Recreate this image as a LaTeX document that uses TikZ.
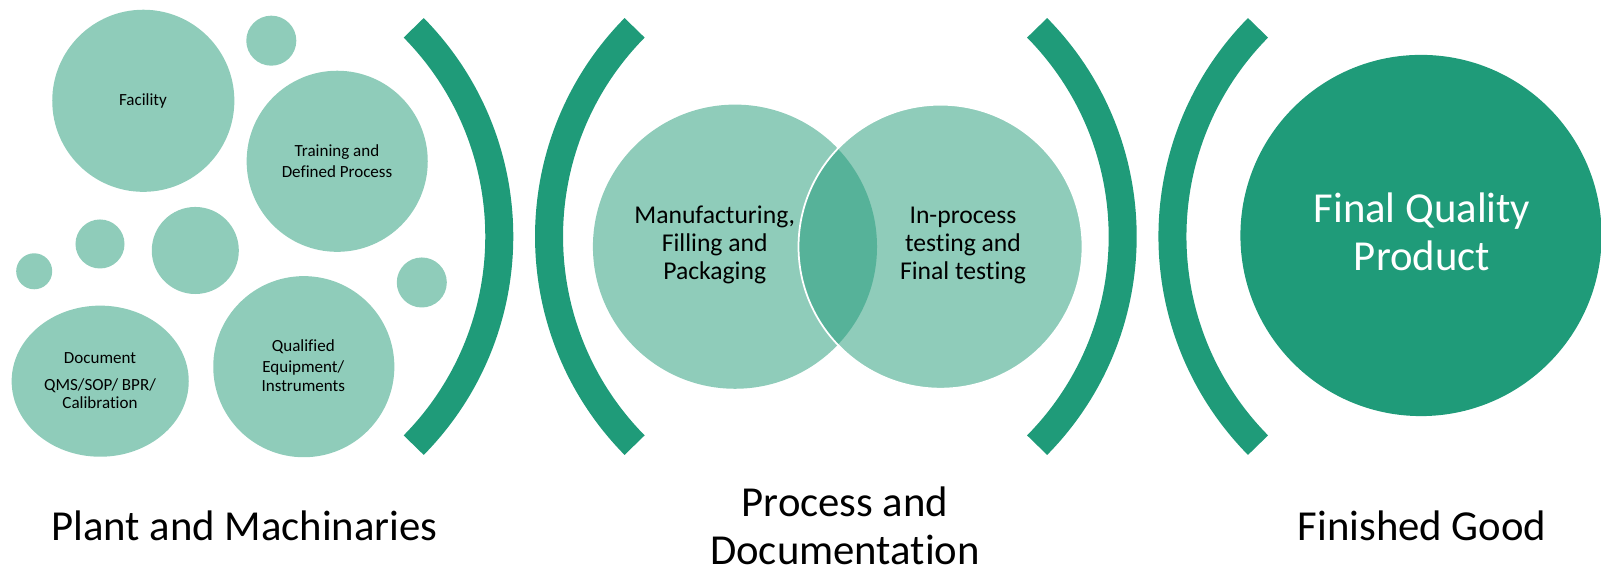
\documentclass[tikz,border=0pt]{standalone}
\usepackage{fontspec}
\setmainfont{Carlito}[Ligatures=NoCommon]
\usetikzlibrary{shapes.geometric}

\definecolor{lightteal}{RGB}{143,204,186}
\definecolor{midteal}{RGB}{86,178,153}
\definecolor{darkteal}{RGB}{31,155,121}

\tikzset{
  bubble/.style = {circle, fill = lightteal, inner sep = 0pt},
  bracket/.style = {draw = darkteal, line width = 0.28cm, line cap = butt},
  tiny/.style = {align = center, anchor = base, inner sep = 0pt,
                 font = \fontsize{4.84}{5.2}\selectfont},
  venntext/.style = {align = center, anchor = base, inner sep = 0pt,
                 font = \fontsize{7.29}{7.97}\selectfont},
  bigtext/.style = {align = center, anchor = base, inner sep = 0pt,
                 font = \fontsize{12.15}{13.7}\selectfont}
}

\begin{document}
\begin{tikzpicture}[x=0.01cm, y=0.01cm]

    \useasboundingbox (0,0) rectangle (1601,571);

    % plant and machinaries
    \node[bubble,
          minimum size = 1.82cm
          ] (fac) at (143.3,470.2) {};
    \node[tiny] at (143,465) {Facility};

    \node[bubble,
          minimum size = 1.81cm
          ] (train) at (337.2,409.7) {};
    \node[tiny] at (337,393.7) {Training and\\[0.66pt]Defined Process};

    \node[ellipse,
          fill = lightteal,
          inner sep = 0pt,
          minimum width = 1.77cm,
          minimum height = 1.51cm
          ] (doc) at (100.2,189.8) {};
    \node[tiny] at (100,162.3) {Document\\[2.4pt]QMS/SOP/ BPR/\\Calibration};

    \node[bubble,
          minimum size = 1.81cm
          ] (equip) at (303.8,204.3) {};
    \node[tiny] at (303.3,179.7) {Qualified\\[0.8pt]Equipment/\\Instruments};

    \node[bubble, minimum size = 0.50cm] (dot1) at (271.3,530.3) {};
    \node[bubble, minimum size = 0.36cm] (dot2) at (34.2,299.7) {};
    \node[bubble, minimum size = 0.49cm] (dot3) at (100,327) {};
    \node[bubble, minimum size = 0.87cm] (dot4) at (195.3,320.5) {};
    \node[bubble, minimum size = 0.50cm] (dot5) at (421.8,288.5) {};

    % brackets
    \coordinate (b1) at (202.1,334.5);
    \coordinate (b2) at (846.2,334.5);
    \coordinate (b3) at (825.5,334.5);
    \coordinate (b4) at (1469.6,334.5);
    \draw[bracket] ([shift={(-44.6:297.2)}]b1) arc[start angle=-44.6, end angle=44.6, radius=297.2];
    \draw[bracket] ([shift={(135.4:297.2)}]b2) arc[start angle=135.4, end angle=224.6, radius=297.2];
    \draw[bracket] ([shift={(-44.6:297.2)}]b3) arc[start angle=-44.6, end angle=44.6, radius=297.2];
    \draw[bracket] ([shift={(135.4:297.2)}]b4) arc[start angle=135.4, end angle=224.6, radius=297.2];

    % process and documentation
    \node[bubble,
          minimum size = 2.84cm
          ] (mfg) at (735,324.3) {};
    \node[bubble,
          minimum size = 2.84cm
          ] (test) at (940.5,324.3) {};
    \begin{scope}
      \clip (mfg.center) circle (142);
      \fill[midteal] (test.center) circle (142);
    \end{scope}
    \draw[white, line width = 0.5pt] (test.center) circle (142);
    \node[venntext] at (714.7,291) {Manufacturing,\\Filling and\\Packaging};
    \node[venntext] at (963,291) {In-process\\testing and\\Final testing};

    % finished good
    \node[circle,
          fill = darkteal,
          inner sep = 0pt,
          minimum size = 3.61cm
          ] (final) at (1421,335.5) {};
    \node[bigtext, text = white] at (1422,300.3) {Final Quality\\Product};

    % captions
    \node[bigtext] (cap1) at (244.5,30.3) {Plant and Machinaries};
    \node[bigtext] (cap2) at (845,6) {Process and\\Documentation};
    \node[bigtext] (cap3) at (1422,30.3) {Finished Good};

\end{tikzpicture}
\end{document}
